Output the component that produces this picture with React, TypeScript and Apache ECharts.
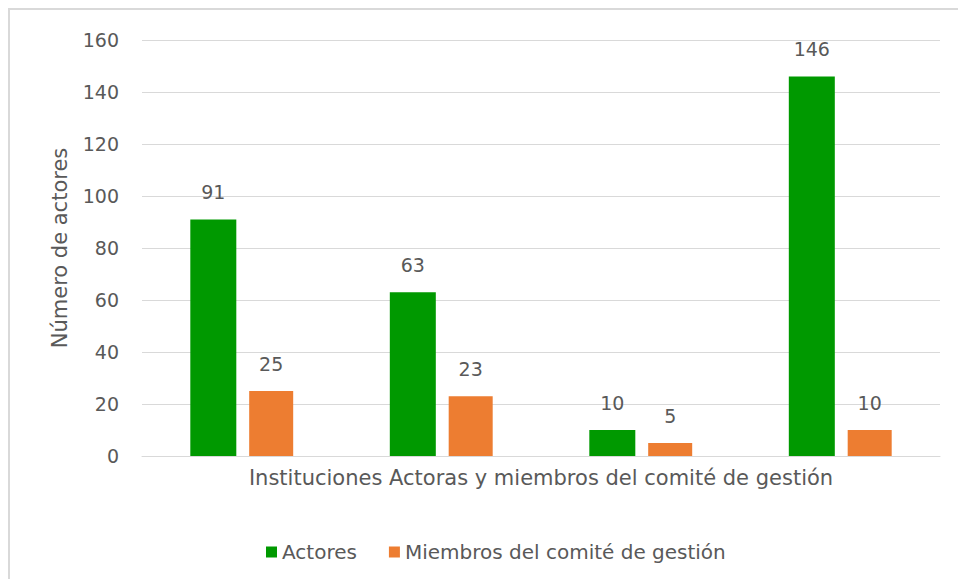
import React, { useEffect, useRef } from "react";
import * as echarts from "echarts";

const categories = ["Grupo 1", "Grupo 2", "Grupo 3", "Grupo 4"];
const actores = [91, 63, 10, 146];
const miembros = [25, 23, 5, 10];
const seriesNames = ["Actores", "Miembros del comité de gestión"];
const xAxisName = "Instituciones Actoras y miembros del comité de gestión";
const yAxisName = "Número de actores";

const FONT = "'DejaVu Sans', 'Open Sans', sans-serif";
const FS = 19;
const NAME_FS = 21;
const TXT = "#595959";

export default function App() {
  const ref = useRef<HTMLDivElement>(null);
  useEffect(() => {
    if (!ref.current) return;
    const chart = echarts.init(ref.current, undefined, { renderer: "svg" });
    chart.setOption({
      animation: false,
      backgroundColor: "#ffffff",
      textStyle: { fontFamily: FONT, color: TXT },
      graphic: [
        {
          type: "rect",
          shape: { x: 9, y: 9, width: 1000, height: 700 },
          style: { fill: "none", stroke: "#d9d9d9", lineWidth: 2 },
          silent: true,
        },
      ],
      grid: { left: 142, right: 18, top: 40, bottom: 123, containLabel: false },
      legend: {
        left: 261,
        top: 537,
        itemWidth: 11,
        itemHeight: 11,
        itemGap: 32,
        icon: "rect",
        textStyle: { fontFamily: FONT, fontSize: 20, color: TXT },
        data: seriesNames,
      },
      xAxis: {
        type: "category",
        data: categories,
        name: xAxisName,
        nameLocation: "middle",
        nameGap: 11,
        nameTextStyle: { fontFamily: FONT, fontSize: NAME_FS, color: TXT },
        axisLabel: { show: false },
        axisTick: { show: false },
        axisLine: { show: true, lineStyle: { color: "#d9d9d9", width: 1 } },
      },
      yAxis: {
        type: "value",
        min: 0,
        max: 160,
        interval: 20,
        name: yAxisName,
        nameLocation: "middle",
        nameGap: 72,
        nameRotate: 90,
        nameTextStyle: { fontFamily: FONT, fontSize: NAME_FS, color: TXT },
        axisLabel: { fontFamily: FONT, fontSize: FS, color: TXT, margin: 23 },
        axisLine: { show: false },
        axisTick: { show: false },
        splitLine: { lineStyle: { color: "#d9d9d9", width: 1 } },
      },
      series: [
        {
          name: seriesNames[0],
          type: "bar",
          data: actores,
          barWidth: 46,
          barGap: "28%",
          itemStyle: { color: "#009900" },
          label: {
            show: true,
            position: "top",
            distance: 18,
            fontFamily: FONT,
            fontSize: FS,
            color: TXT,
          },
        },
        {
          name: seriesNames[1],
          type: "bar",
          data: miembros,
          barWidth: 44,
          itemStyle: { color: "#ED7D31" },
          label: {
            show: true,
            position: "top",
            distance: 18,
            fontFamily: FONT,
            fontSize: FS,
            color: TXT,
          },
        },
      ],
    });
    return () => chart.dispose();
  }, []);
  return (
    <div
      ref={ref}
      style={{ position: "absolute", left: 0, top: 0, width: 958, height: 579 }}
    />
  );
}
